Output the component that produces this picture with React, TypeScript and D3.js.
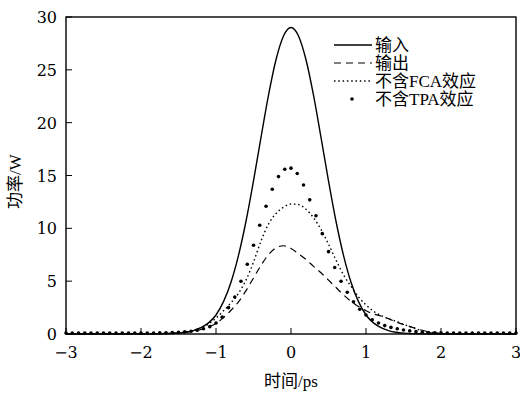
import React, { useEffect, useRef } from 'react';
import * as d3 from 'd3';

// time axis (ps) shared by the three line series
const lineTime = [
  -3, -2.5, -2, -1.8, -1.7, -1.6, -1.5, -1.4, -1.3, -1.2, -1.1, -1.0, -0.9, -0.8, -0.7, -0.6,
  -0.5, -0.4, -0.3, -0.2, -0.1, 0, 0.1, 0.2, 0.3, 0.4, 0.5, 0.6, 0.7, 0.8, 0.9, 1.0, 1.1, 1.2,
  1.3, 1.4, 1.5, 1.6, 1.7, 1.8, 1.9, 2.0, 2.1, 2.2, 2.5, 3,
];

// 输入
const inputPower = [
  0, 0, 0, 0.01, 0.02, 0.04, 0.08, 0.16, 0.32, 0.6, 1.05, 1.8, 3.06, 4.9, 7.44, 10.67,
  14.5, 18.6, 22.6, 25.95, 28.2, 29.0, 28.2, 25.95, 22.6, 18.6, 14.5, 10.67, 7.44, 4.9, 3.06, 1.8,
  1.05, 0.6, 0.32, 0.16, 0.08, 0.04, 0.02, 0.01, 0, 0, 0, 0, 0, 0,
];

// 输出
const outputPower = [
  0, 0, 0.01, 0.03, 0.05, 0.07, 0.1, 0.17, 0.28, 0.43, 0.68, 1.0, 1.55, 2.25, 3.05, 4.1,
  5.3, 6.5, 7.5, 8.15, 8.35, 8.1, 7.6, 7.05, 6.4, 5.8, 5.1, 4.4, 3.7, 3.1, 2.6, 2.2,
  1.9, 1.7, 1.45, 1.15, 0.9, 0.68, 0.45, 0.26, 0.13, 0.06, 0.03, 0.01, 0, 0,
];

// 不含FCA效应
const noFcaPower = [
  0, 0, 0.01, 0.03, 0.05, 0.08, 0.12, 0.2, 0.33, 0.6, 0.95, 1.5, 2.2, 2.95, 3.85, 5.1,
  6.8, 8.8, 10.4, 11.4, 12.0, 12.3, 12.25, 11.8, 11.0, 9.9, 8.5, 7.0, 5.6, 4.5, 3.5, 2.75,
  2.15, 1.75, 1.45, 1.2, 0.92, 0.66, 0.42, 0.2, 0.08, 0.03, 0.01, 0, 0, 0,
];

// 不含TPA效应 (drawn as dots)
const tpaTime = [
  -3, -2.917, -2.833, -2.75, -2.667, -2.583, -2.5, -2.417, -2.333, -2.25, -2.167, -2.083,
  -2, -1.917, -1.833, -1.75, -1.667, -1.583, -1.5, -1.417, -1.333, -1.25, -1.167, -1.083,
  -1, -0.917, -0.833, -0.75, -0.667, -0.583, -0.5, -0.417, -0.333, -0.25, -0.167, -0.083,
  0, 0.083, 0.167, 0.25, 0.333, 0.417, 0.5, 0.583, 0.667, 0.75, 0.833, 0.917,
  1, 1.083, 1.167, 1.25, 1.333, 1.417, 1.5, 1.583, 1.667, 1.75, 1.833, 1.917,
  2, 2.083, 2.167, 2.25, 2.333, 2.417, 2.5, 2.583, 2.667, 2.75, 2.833, 2.917, 3,
];
const tpaPower = [
  0, 0, 0, 0, 0, 0, 0, 0, 0, 0, 0, 0,
  0, 0, 0, 0.01, 0.02, 0.04, 0.07, 0.11, 0.17, 0.27, 0.4, 0.6,
  0.95, 1.5, 2.4, 3.4, 4.9, 6.5, 8.3, 10.2, 12.0, 13.6, 14.8, 15.5,
  15.6, 15.1, 14.0, 12.6, 11.1, 9.4, 7.7, 6.2, 4.9, 3.85, 2.95, 2.25,
  1.7, 1.25, 0.95, 0.7, 0.53, 0.4, 0.29, 0.2, 0.13, 0.08, 0.05, 0.03,
  0.01, 0, 0, 0, 0, 0, 0, 0, 0, 0, 0, 0, 0,
];

const xTicks = [-3, -2, -1, 0, 1, 2, 3];
const yTicks = [0, 5, 10, 15, 20, 25, 30];
const legendLabels = ['输入', '输出', '不含FCA效应', '不含TPA效应'];

const NUM_FONT = "'DejaVu Serif', 'Liberation Serif', serif";
const TEXT_FONT = "'Liberation Serif', 'Noto Sans CJK SC', serif";

const App = () => {
  const ref = useRef<SVGSVGElement | null>(null);

  useEffect(() => {
    const svg = d3.select(ref.current);
    svg.selectAll('*').remove();

    const left = 66;
    const right = 516;
    const top = 17;
    const bottom = 334;

    const x = d3.scaleLinear().domain([-3, 3]).range([left, right]);
    const y = d3.scaleLinear().domain([0, 30]).range([bottom, top]);

    const g = svg.append('g').style('font-family', TEXT_FONT).attr('fill', '#000');

    // frame
    g.append('rect')
      .attr('x', left)
      .attr('y', top)
      .attr('width', right - left)
      .attr('height', bottom - top)
      .attr('fill', 'none')
      .attr('stroke', '#000')
      .attr('stroke-width', 1.4);

    // ticks pointing inward
    g.selectAll('.xt')
      .data(xTicks)
      .enter()
      .append('line')
      .attr('x1', (d) => x(d))
      .attr('x2', (d) => x(d))
      .attr('y1', bottom)
      .attr('y2', bottom - 6)
      .attr('stroke', '#000')
      .attr('stroke-width', 1);

    g.selectAll('.yt')
      .data(yTicks)
      .enter()
      .append('line')
      .attr('x1', left)
      .attr('x2', left + 6)
      .attr('y1', (d) => y(d))
      .attr('y2', (d) => y(d))
      .attr('stroke', '#000')
      .attr('stroke-width', 1);

    const fmt = d3.format('d');

    g.selectAll('.xl')
      .data(xTicks)
      .enter()
      .append('text')
      .attr('x', (d) => x(d))
      .attr('y', bottom + 24)
      .attr('text-anchor', 'middle')
      .style('font-family', NUM_FONT)
      .attr('font-size', 16)
      .text((d) => fmt(d));

    g.selectAll('.yl')
      .data(yTicks)
      .enter()
      .append('text')
      .attr('x', left - 9)
      .attr('y', (d) => y(d) + 6)
      .attr('text-anchor', 'end')
      .style('font-family', NUM_FONT)
      .attr('font-size', 16)
      .text((d) => fmt(d));

    // axis titles
    g.append('text')
      .attr('x', x(0))
      .attr('y', 387)
      .attr('text-anchor', 'middle')
      .attr('font-size', 17)
      .text('时间/ps');

    g.append('text')
      .attr('transform', `translate(21, ${y(15) + 6}) rotate(-90)`)
      .attr('text-anchor', 'middle')
      .attr('font-size', 17)
      .text('功率/W');

    const line = d3
      .line<number>()
      .x((_, i) => x(lineTime[i]))
      .y((d) => y(d))
      .curve(d3.curveMonotoneX);

    const series = [
      { values: inputPower, dash: null, width: 1.4 },
      { values: outputPower, dash: '7,5', width: 1.2 },
      { values: noFcaPower, dash: '1.5,2.8', width: 1.4 },
    ];

    series.forEach((s) => {
      g.append('path')
        .attr('d', line(s.values))
        .attr('fill', 'none')
        .attr('stroke', '#000')
        .attr('stroke-width', s.width)
        .attr('stroke-dasharray', s.dash);
    });

    g.selectAll('.tpa')
      .data(tpaPower)
      .enter()
      .append('circle')
      .attr('cx', (_, i) => x(tpaTime[i]))
      .attr('cy', (d) => y(d) - 1)
      .attr('r', 1.8)
      .attr('fill', '#000');

    // legend
    const lx0 = 334;
    const lx1 = 372;
    const ly = (i: number) => 45 + i * 18;

    legendLabels.forEach((label, i) => {
      const cy = ly(i);
      if (i < 3) {
        g.append('line')
          .attr('x1', lx0)
          .attr('x2', lx1)
          .attr('y1', cy)
          .attr('y2', cy)
          .attr('stroke', '#000')
          .attr('stroke-width', series[i].width)
          .attr('stroke-dasharray', series[i].dash);
      } else {
        g.append('circle').attr('cx', 352).attr('cy', cy).attr('r', 1.8).attr('fill', '#000');
      }
      g.append('text')
        .attr('x', lx1 + 3)
        .attr('y', cy + 6)
        .attr('font-size', 17)
        .text(label);
    });
  }, []);

  return (
    <svg
      ref={ref}
      width={520}
      height={393}
      style={{ position: 'absolute', left: 0, top: 0, background: '#fff' }}
    />
  );
};

export default App;
